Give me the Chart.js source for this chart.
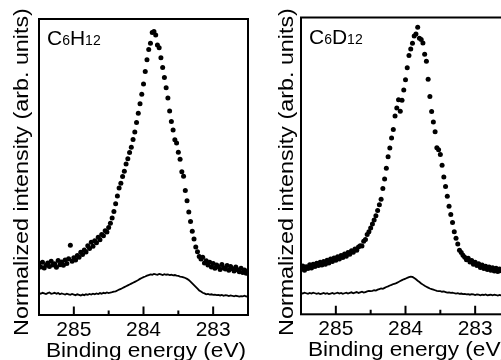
<!DOCTYPE html>
<html>
<head>
<meta charset="utf-8">
<script src="https://cdn.jsdelivr.net/npm/chart.js@4.4.0/dist/chart.umd.min.js"></script>
<style>
  html, body { margin: 0; padding: 0; width: 501px; height: 360px; overflow: hidden; background: #fff; }
  canvas { position: absolute; top: 0; }
  #leftChart { left: 0; width: 252px; height: 360px; }
  #rightChart { left: 258px; width: 256px; height: 360px; }
</style>
</head>
<body>
<canvas id="leftChart" width="252" height="360"></canvas>
<canvas id="rightChart" width="256" height="360"></canvas>
<script>
// binding energy grid (eV), 0.025 eV steps from 285.5 down to 282.5
const eStart = 285.5, eStep = 0.025, nPoints = 121;
const energies = Array.from({length: nPoints}, (_, i) => +(eStart - i * eStep).toFixed(3));

const majorTicks = [285, 284, 283];
const minorTicks = [284.5, 283.5];
const xTitle = "Binding energy (eV)";
const yTitle = "Normalized intensity (arb. units)";

// C6H12 panel
const h12Label = [["C", 0], ["6", 1], ["H", 0], ["12", 1]];
const h12Dots = [
  17.5,16.2,17.8,15.9,16.8,17.6,16.4,18.2,16.9,17.3,
  16.1,18.4,17.0,17.9,16.8,18.6,17.4,19.0,23.6,18.2,
  19.3,18.6,20.1,19.5,21.2,20.4,22.0,21.3,23.4,22.5,
  24.6,23.2,25.1,24.4,26.3,25.4,27.2,26.8,28.5,28.0,
  29.6,31.0,32.8,35.0,37.6,40.2,42.9,44.5,46.8,48.6,
  51.0,52.8,54.9,56.7,59.3,61.8,65.0,68.2,71.4,74.6,
  78.0,82.3,86.2,89.7,91.8,95.4,95.8,94.6,91.2,90.3,
  86.9,83.6,80.2,76.8,73.3,68.9,65.4,62.5,59.2,58.1,
  55.0,52.6,48.4,46.9,42.1,38.6,34.8,31.6,28.3,25.7,
  23.0,21.4,19.8,18.9,19.5,17.6,18.3,16.9,17.8,16.2,
  17.4,15.8,16.9,16.3,15.4,17.1,16.0,15.5,16.7,15.1,
  16.4,15.6,14.9,16.2,15.3,14.6,15.8,14.4,15.2,14.1,
  14.8
];
const h12Line = [
  7.4,7.2,7.5,7.3,7.1,7.4,7.6,7.2,7.3,7.5,
  7.2,7.4,7.0,7.3,7.1,6.9,7.2,7.0,6.8,7.1,
  6.9,6.7,7.0,6.8,6.6,6.9,6.7,7.0,6.8,7.1,
  6.9,7.2,7.0,7.3,7.1,7.4,7.2,7.5,7.3,7.6,
  7.4,7.6,7.7,7.9,8.0,8.3,8.6,8.8,9.1,9.4,
  9.7,10.0,10.3,10.6,10.9,11.2,11.5,11.8,12.2,12.5,
  12.8,13.0,13.3,13.5,13.7,13.6,13.9,13.7,13.6,13.9,
  13.7,13.5,13.8,13.6,13.7,13.5,13.6,13.4,13.5,13.3,
  13.2,13.0,12.9,12.7,12.5,12.2,11.8,11.3,10.7,10.1,
  9.5,8.9,8.3,7.9,7.5,7.3,7.0,7.1,6.9,7.0,
  6.8,6.9,6.7,6.8,6.6,6.8,6.5,6.7,6.6,6.4,
  6.6,6.5,6.3,6.5,6.4,6.2,6.4,6.3,6.5,6.2,
  6.4
];

// C6D12 panel
const d12Label = [["C", 0], ["6", 1], ["D", 0], ["12", 1]];
const d12Dots = [
  15.2,16.3,14.8,16.0,15.4,16.7,15.6,16.9,16.1,17.2,
  16.4,17.5,16.6,17.8,16.9,18.2,17.3,18.6,17.8,19.0,
  18.2,19.4,18.6,19.8,19.1,20.3,19.6,20.8,20.2,21.4,
  20.9,22.0,21.6,22.7,23.1,23.0,24.6,25.2,26.9,27.8,
  29.1,30.4,31.8,33.2,35.0,36.9,38.8,42.4,45.6,49.2,
  53.1,56.0,59.4,62.3,66.8,69.5,72.3,68.4,72.1,75.6,
  79.0,83.1,87.2,89.4,91.3,93.8,94.4,96.7,93.0,92.6,
  91.4,87.6,85.3,79.2,73.4,68.3,64.8,61.5,56.1,55.4,
  53.8,50.2,46.3,43.1,39.8,36.4,33.6,30.9,27.8,25.6,
  23.7,21.6,20.8,19.9,19.2,18.4,18.9,17.6,18.1,16.9,
  17.5,16.4,17.0,15.8,16.6,15.4,16.2,15.1,15.9,14.8,
  15.7,14.6,15.5,14.4,15.3,14.7,15.0,14.3,15.1,14.5,
  14.9
];
const d12Line = [
  7.2,7.0,7.3,7.1,6.9,7.2,7.0,7.3,7.1,6.9,
  7.1,6.8,7.0,7.2,6.9,7.1,6.8,7.0,7.2,6.9,
  7.1,7.3,7.0,7.2,6.9,7.1,7.3,7.0,7.2,7.4,
  7.1,7.3,7.5,7.2,7.4,7.6,7.3,7.5,7.7,7.9,
  7.8,7.9,8.1,8.0,8.3,8.5,8.7,8.6,8.9,9.2,
  9.4,9.7,9.9,10.2,10.3,10.6,10.9,11.2,11.5,11.8,
  12.0,12.3,12.5,12.7,12.6,12.2,11.8,11.3,10.9,10.4,
  10.0,9.6,9.3,9.0,8.7,8.5,8.3,8.1,7.9,7.8,
  7.8,7.6,7.7,7.5,7.3,7.4,7.2,7.3,7.1,7.0,
  7.1,6.9,7.0,6.8,6.9,6.7,6.8,6.6,6.8,6.7,
  6.5,6.7,6.6,6.4,6.6,6.5,6.7,6.4,6.5,6.6,
  6.4,6.6,6.5,6.3,6.5,6.4,6.6,6.3,6.5,6.4,
  6.5
];

const FONT = '"Liberation Sans", Arial, Helvetica, sans-serif';

function toPoints(vals) {
  return vals.map((v, i) => ({x: energies[i], y: v}));
}

// frame + inward ticks on the bottom axis
const framePlugin = {
  id: "frame",
  afterDatasetsDraw(chart) {
    const ctx = chart.ctx, a = chart.chartArea, xs = chart.scales.x;
    ctx.save();
    ctx.strokeStyle = "#000";
    ctx.lineWidth = 2;
    ctx.strokeRect(a.left, a.top, a.right - a.left, a.bottom - a.top);
    ctx.beginPath();
    majorTicks.forEach(v => {
      const px = xs.getPixelForValue(v);
      ctx.moveTo(px, a.bottom); ctx.lineTo(px, a.bottom - 8.5);
    });
    minorTicks.forEach(v => {
      const px = xs.getPixelForValue(v);
      ctx.moveTo(px, a.bottom); ctx.lineTo(px, a.bottom - 4.5);
    });
    ctx.stroke();
    ctx.restore();
  }
};

// sample name in the corner and the two axis titles
const textPlugin = {
  id: "texts",
  afterDraw(chart, args, opts) {
    const ctx = chart.ctx, a = chart.chartArea;
    ctx.save();
    ctx.fillStyle = "#000";
    ctx.textBaseline = "alphabetic";
    ctx.textAlign = "left";
    let x = a.left + 8;
    opts.label.forEach(([s, small]) => {
      ctx.font = (small ? 14 : 21) + "px " + FONT;
      ctx.fillText(s, x, a.top + 26);
      x += ctx.measureText(s).width;
    });

    ctx.font = "21px " + FONT;
    ctx.textAlign = "center";
    ctx.save();
    ctx.translate((a.left + a.right) / 2 + 2.5, a.bottom + 42);
    ctx.scale(1.078, 1);
    ctx.fillText(xTitle, 0, 0);
    ctx.restore();

    ctx.save();
    ctx.translate(a.left - opts.yGap, 172);
    ctx.rotate(-Math.PI / 2);
    ctx.scale(1.11, 1);
    ctx.fillText(yTitle, 0, 0);
    ctx.restore();
    ctx.restore();
  }
};

function makeChart(id, dots, line, label, lay) {
  return new Chart(document.getElementById(id), {
    type: "scatter",
    data: {
      datasets: [
        {
          data: toPoints(line),
          showLine: true,
          borderColor: "#000",
          borderWidth: 1.8,
          pointRadius: 0,
          tension: 0
        },
        {
          data: toPoints(dots),
          pointRadius: 2.5,
          pointBackgroundColor: "#000",
          pointBorderWidth: 0,
          showLine: false
        }
      ]
    },
    options: {
      responsive: false,
      animation: false,
      events: [],
      layout: { padding: { left: lay.left, top: lay.top, right: lay.right, bottom: 0 } },
      plugins: {
        legend: { display: false },
        tooltip: { enabled: false },
        texts: { label: label, yGap: lay.yGap }
      },
      scales: {
        x: {
          type: "linear",
          reverse: true,
          min: 282.5,
          max: 285.5,
          grid: { display: false, drawTicks: false },
          border: { display: false },
          afterBuildTicks: s => { s.ticks = majorTicks.map(v => ({value: v})); },
          afterFit: s => { s.height = lay.xHeight; },
          ticks: {
            color: "#000",
            padding: 2.5,
            maxRotation: 0,
            autoSkip: false,
            font: { family: FONT, size: 21 },
            callback: v => String(v)
          }
        },
        y: { display: false, min: 0, max: 100 }
      }
    },
    plugins: [framePlugin, textPlugin]
  });
}

makeChart("leftChart", h12Dots, h12Line, h12Label,
  { left: 39, top: 19, right: 3, xHeight: 45, yGap: 10.7 });
makeChart("rightChart", d12Dots, d12Line, d12Label,
  { left: 43, top: 17.5, right: 3.4, xHeight: 45.7, yGap: 7.7 });
</script>
</body>
</html>
